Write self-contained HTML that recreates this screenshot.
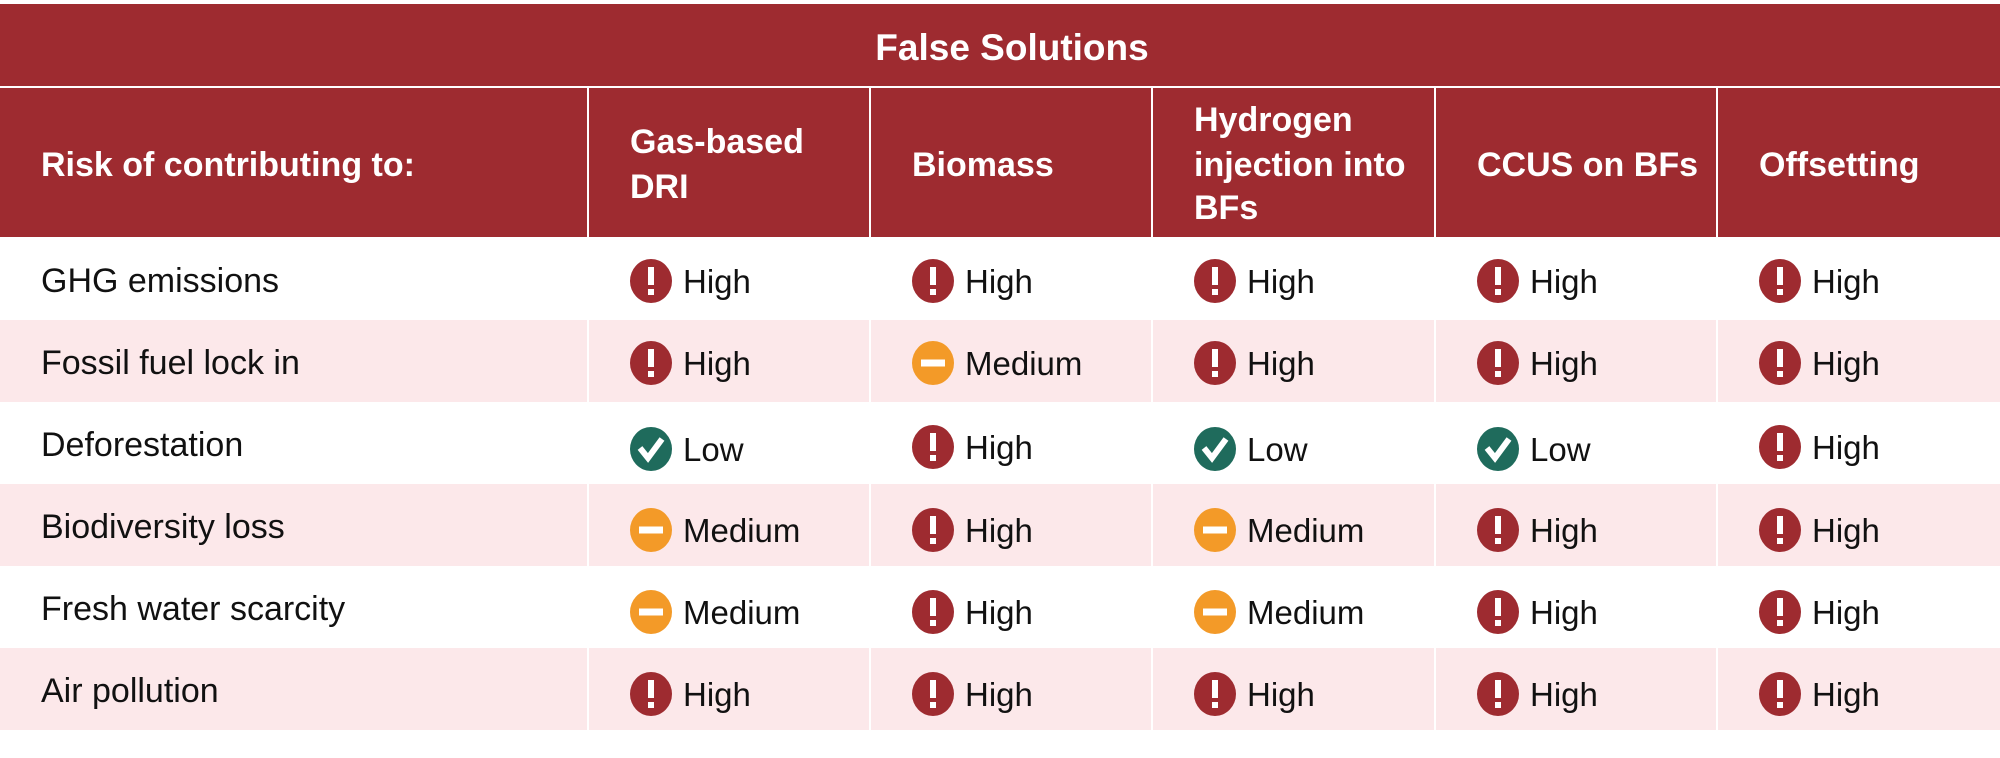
<!DOCTYPE html>
<html><head><meta charset="utf-8"><style>
html,body{margin:0;padding:0;background:#fff}
svg{display:block}
text{font-family:"Liberation Sans",sans-serif}
</style></head><body>
<svg width="2000" height="758" viewBox="0 0 2000 758" xmlns="http://www.w3.org/2000/svg">
<defs>
<g id="hi"><ellipse cx="21" cy="0" rx="21" ry="22" fill="#9e2b30"/><rect x="18" y="-14" width="6" height="18" fill="#fff"/><rect x="18" y="8" width="6" height="6" fill="#fff"/></g>
<g id="me"><ellipse cx="21" cy="0" rx="21" ry="22" fill="#f39a28"/><rect x="9" y="-3.5" width="24" height="7" fill="#fff"/></g>
<g id="lo"><ellipse cx="21" cy="0" rx="21" ry="22" fill="#1f6b5c"/><path d="M10 -1 L18 9 L32 -10" stroke="#fff" stroke-width="6" fill="none"/></g>
</defs>
<rect x="0" y="4" width="2000" height="82" fill="#9e2b30"/>
<text x="1012" y="60" text-anchor="middle" font-size="37" font-weight="bold" fill="#fff">False Solutions</text>
<rect x="0" y="88" width="2000" height="149" fill="#9e2b30"/>
<rect x="0" y="320" width="2000" height="82" fill="#fce8ea"/>
<rect x="0" y="484" width="2000" height="82" fill="#fce8ea"/>
<rect x="0" y="648" width="2000" height="82" fill="#fce8ea"/>
<g stroke="#fff" stroke-width="2">
<line x1="588" y1="88" x2="588" y2="730"/><line x1="870" y1="88" x2="870" y2="730"/><line x1="1152" y1="88" x2="1152" y2="730"/><line x1="1435" y1="88" x2="1435" y2="730"/><line x1="1717" y1="88" x2="1717" y2="730"/>
</g>
<g font-size="34" font-weight="bold" fill="#fff">
<text x="41" y="176">Risk of contributing to:</text>
<text x="630" y="153">Gas-based</text><text x="630" y="198">DRI</text>
<text x="912" y="176">Biomass</text>
<text x="1194" y="131">Hydrogen</text><text x="1194" y="176">injection into</text><text x="1194" y="219">BFs</text>
<text x="1477" y="176">CCUS on BFs</text>
<text x="1759" y="176">Offsetting</text>
</g>
<g font-size="34" fill="#111">
<text x="41" y="292">GHG emissions</text>
<text x="41" y="374">Fossil fuel lock in</text>
<text x="41" y="456">Deforestation</text>
<text x="41" y="538">Biodiversity loss</text>
<text x="41" y="620">Fresh water scarcity</text>
<text x="41" y="702">Air pollution</text>
</g>
<g font-size="33" fill="#111">
<use href="#hi" x="630" y="281"/><text x="683" y="293">High</text>
<use href="#hi" x="912" y="281"/><text x="965" y="293">High</text>
<use href="#hi" x="1194" y="281"/><text x="1247" y="293">High</text>
<use href="#hi" x="1477" y="281"/><text x="1530" y="293">High</text>
<use href="#hi" x="1759" y="281"/><text x="1812" y="293">High</text>
<use href="#hi" x="630" y="363"/><text x="683" y="375">High</text>
<use href="#me" x="912" y="363"/><text x="965" y="375">Medium</text>
<use href="#hi" x="1194" y="363"/><text x="1247" y="375">High</text>
<use href="#hi" x="1477" y="363"/><text x="1530" y="375">High</text>
<use href="#hi" x="1759" y="363"/><text x="1812" y="375">High</text>
<use href="#lo" x="630" y="449"/><text x="683" y="461">Low</text>
<use href="#hi" x="912" y="447"/><text x="965" y="459">High</text>
<use href="#lo" x="1194" y="449"/><text x="1247" y="461">Low</text>
<use href="#lo" x="1477" y="449"/><text x="1530" y="461">Low</text>
<use href="#hi" x="1759" y="447"/><text x="1812" y="459">High</text>
<use href="#me" x="630" y="530"/><text x="683" y="542">Medium</text>
<use href="#hi" x="912" y="530"/><text x="965" y="542">High</text>
<use href="#me" x="1194" y="530"/><text x="1247" y="542">Medium</text>
<use href="#hi" x="1477" y="530"/><text x="1530" y="542">High</text>
<use href="#hi" x="1759" y="530"/><text x="1812" y="542">High</text>
<use href="#me" x="630" y="612"/><text x="683" y="624">Medium</text>
<use href="#hi" x="912" y="612"/><text x="965" y="624">High</text>
<use href="#me" x="1194" y="612"/><text x="1247" y="624">Medium</text>
<use href="#hi" x="1477" y="612"/><text x="1530" y="624">High</text>
<use href="#hi" x="1759" y="612"/><text x="1812" y="624">High</text>
<use href="#hi" x="630" y="694"/><text x="683" y="706">High</text>
<use href="#hi" x="912" y="694"/><text x="965" y="706">High</text>
<use href="#hi" x="1194" y="694"/><text x="1247" y="706">High</text>
<use href="#hi" x="1477" y="694"/><text x="1530" y="706">High</text>
<use href="#hi" x="1759" y="694"/><text x="1812" y="706">High</text>
</g>
</svg>
</body></html>
